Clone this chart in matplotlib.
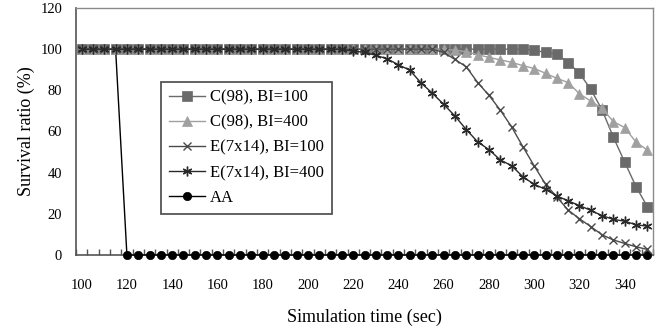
import matplotlib
matplotlib.use("Agg")
import matplotlib.pyplot as plt
import numpy as np

time = list(range(100, 355, 5))

c98_bi100 = [100]*40 + [99.5, 98.4, 97.6, 93.5, 88.3, 80.5, 70.5, 57.2, 45.1, 33.2, 23.5]
c98_bi400 = [100]*33 + [99.5, 98.8, 97.3, 96.0, 94.8, 93.6, 92.0, 90.6, 88.3, 85.8, 83.8,
                        78.3, 74.8, 71.2, 64.8, 61.9, 54.8, 51.0]
e_bi100 = [100]*32 + [98.4, 95.0, 91.4, 83.8, 77.6, 70.4, 62.3, 52.6, 43.3, 34.4, 28.2,
                      21.8, 17.6, 13.8, 9.8, 7.3, 5.6, 4.0, 2.7]
e_bi400 = [100]*24 + [99.0, 98.5, 97.0, 95.3, 92.4, 89.8, 83.6, 78.6, 73.2, 67.5, 60.9,
                      55.0, 51.2, 46.2, 43.4, 38.0, 34.3, 31.9, 28.7, 26.3, 24.0, 21.7,
                      19.1, 17.3, 16.4, 14.7, 14.0]
aa = [100]*4 + [0]*47

series = [
    ("C(98), BI=100", c98_bi100, "#6a6a6a", "s", 6.5),
    ("C(98), BI=400", c98_bi400, "#a0a0a0", "^", 6.5),
    ("E(7x14), BI=100", e_bi100, "#4a4a4a", "x", 6),
    ("E(7x14), BI=400", e_bi400, "#2a2a2a", (6, 2, 0), 7),
    ("AA", aa, "#000000", "o", 6),
]

plt.rcParams['font.family'] = ['Liberation Serif', 'DejaVu Serif']

fig = plt.figure(figsize=(6.63, 3.26), dpi=100)
ax = fig.add_axes([76/663, (326-255)/326, (653-76)/663, (255-8)/326])

order = [4, 0, 1, 2, 3]
handles = {}
for i in order:
    name, vals, col, mk, ms = series[i]
    h, = ax.plot(time, vals, color=col, marker=mk, markersize=ms, linewidth=1.0,
                 markeredgewidth=1.0 if mk not in ("s", "^", "o") else 0.5,
                 markerfacecolor=col, markeredgecolor=col, label=name, clip_on=False,
                 zorder=3)
    handles[i] = h

ax.set_xlim(97.5, 352.5)
ax.set_ylim(0, 120)
ax.set_xticks(list(range(100, 341, 20)))
ax.set_xticks(np.arange(97.5, 353, 5), minor=True)
ax.tick_params(axis='x', which='major', length=0, pad=17, labelsize=10.5)
ax.tick_params(axis='x', which='minor', direction='in', length=4, width=1, color='#555555')
ax.set_yticks(list(range(0, 121, 20)))
ax.tick_params(axis='y', length=0, pad=10, labelsize=10.5)

for s in ['left', 'bottom']:
    ax.spines[s].set_color('#555555')
    ax.spines[s].set_linewidth(1.2)
for s in ['top', 'right']:
    ax.spines[s].set_color('#8a8a8a')
    ax.spines[s].set_linewidth(1.0)

ax.set_xlabel("Simulation time (sec)", fontsize=13, labelpad=12)
ax.set_ylabel("Survival ratio (%)", fontsize=13, labelpad=4)

leg = ax.legend([handles[i] for i in range(5)], [s[0] for s in series],
                loc='upper left', bbox_to_anchor=((161-76)/577, (255-82)/247),
                borderaxespad=0, fancybox=False, framealpha=1, edgecolor='#555555',
                fontsize=12, handlelength=2.2, handletextpad=0.3, labelspacing=0.55,
                borderpad=0.45)
leg.get_frame().set_linewidth(1.3)

fig.savefig("out.png", dpi=100)
